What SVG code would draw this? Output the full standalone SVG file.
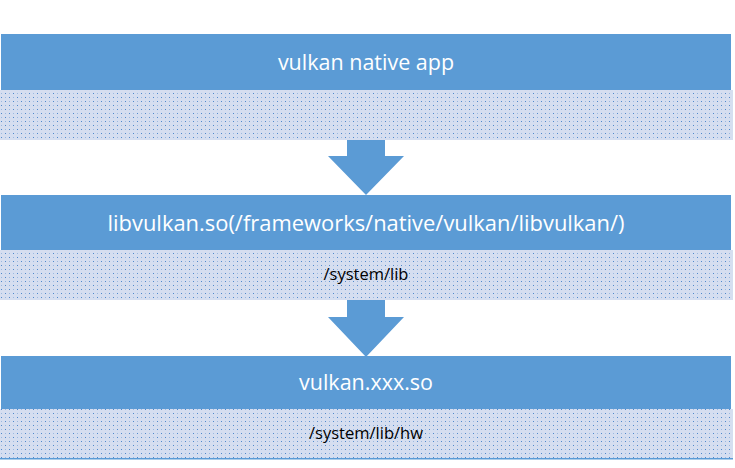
<svg xmlns="http://www.w3.org/2000/svg" width="735" height="468" viewBox="0 0 735 468">
<style>
.bar{fill:#5b9bd5}
.dot{fill:url(#dots)}
.t1{font-family:"Open Sans","Noto Sans",sans-serif;fill:#ffffff;text-anchor:middle;font-size:21.5px}
.t2{font-family:"Open Sans","Noto Sans",sans-serif;fill:#000000;text-anchor:middle;font-size:16.5px}
.arrow{fill:#5b9bd5}
</style>
<defs>
<pattern id="dots" width="8" height="8" patternUnits="userSpaceOnUse">
<rect width="8" height="8" fill="#d5def0"/>
<rect x="1" y="1" width="1" height="1" fill="#4f88cc"/>
<rect x="5" y="5" width="1" height="1" fill="#4f88cc"/>
<rect x="5" y="1" width="1" height="1" fill="#9cb9e0"/>
<rect x="1" y="5" width="1" height="1" fill="#9cb9e0"/>
</pattern>
</defs>
<g id="node-app">
<rect class="bar" x="1" y="34" width="730" height="56"/>
<rect class="dot" x="0" y="90" width="733" height="50"/>
<text class="t1" x="366" y="70">vulkan native app</text>
</g>
<g id="node-libvulkan">
<rect class="bar" x="1" y="195" width="730" height="55"/>
<rect class="dot" x="0" y="250" width="733" height="50"/>
<text class="t1" x="366" y="231" textLength="517" lengthAdjust="spacingAndGlyphs">libvulkan.so(/frameworks/native/vulkan/libvulkan/)</text>
<text class="t2" x="366" y="280">/system/lib</text>
</g>
<g id="node-driver">
<rect class="bar" x="1" y="356" width="730" height="53"/>
<rect class="dot" x="0" y="409" width="733" height="50"/>
<rect class="bar" x="0" y="458" width="733" height="1.5"/>
<text class="t1" x="366" y="390">vulkan.xxx.so</text>
<text class="t2" x="366" y="439">/system/lib/hw</text>
</g>
<g id="connectors">
<polygon class="arrow" points="347,140 385,140 385,156 404,156 366,195 328,156 347,156"/>
<polygon class="arrow" points="347,300 385,300 385,317 404,317 366,357 328,317 347,317"/>
</g>
</svg>
